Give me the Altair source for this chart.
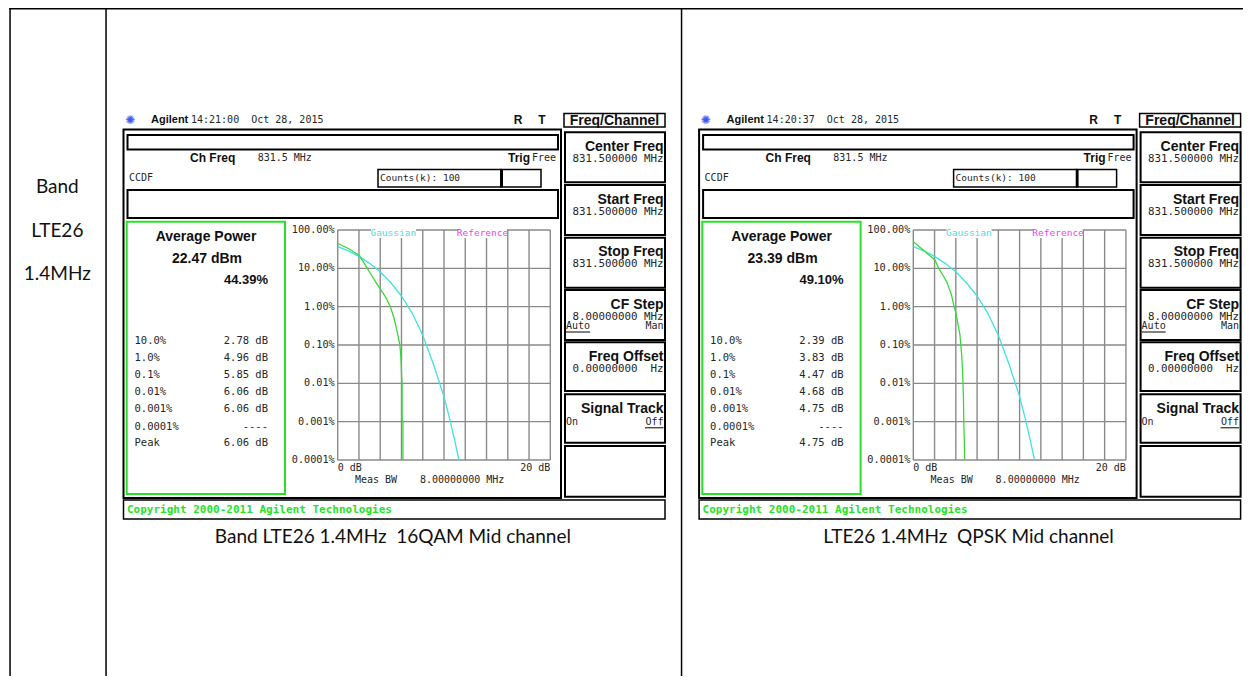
import altair as alt
import pandas as pd

# ---------------------------------------------------------------- data
ROW_TITLE = ["Band", "LTE26", "1.4MHz"]
CAPTIONS = ["Band LTE26 1.4MHz \u00a016QAM Mid channel", "LTE26 1.4MHz \u00a0QPSK Mid channel"]
CLOCK = ["14:21:00 \u00a0Oct 28, 2015", "14:20:37 \u00a0Oct 28, 2015"]
CH_FREQ = "831.5 MHz"
COUNTS = "Counts(k): 100"
AVG_POWER = ["22.47 dBm", "23.39 dBm"]
AVG_PCT = ["44.39%", "49.10%"]
PROB_LEVELS = ["10.0%", "1.0%", "0.1%", "0.01%", "0.001%", "0.0001%", "Peak"]
PAPR_16QAM = ["2.78 dB", "4.96 dB", "5.85 dB", "6.06 dB", "6.06 dB", "----", "6.06 dB"]
PAPR_QPSK = ["2.39 dB", "3.83 dB", "4.47 dB", "4.68 dB", "4.75 dB", "----", "4.75 dB"]
Y_TICK_VALUES = [100, 10, 1, 0.1, 0.01, 0.001, 0.0001]
Y_TICK_LABELS = ["100.00%", "10.00%", "1.00%", "0.10%", "0.01%", "0.001%", "0.0001%"]
X_GRID_DB = [0, 2, 4, 6, 8, 10, 12, 14, 16, 18, 20]
X_END_DB = [0, 20]
X_END_LABELS = ["0 dB", "20 dB"]
MEAS_BW = ["Meas BW", "8.00000000 MHz"]
MENU_TITLE = "Freq/Channel"
SOFTKEY_TITLES = ["Center Freq", "Start Freq", "Stop Freq", "CF Step", "Freq Offset", "Signal Track"]
SOFTKEY_VALUES = ["831.500000 MHz", "831.500000 MHz", "831.500000 MHz", "8.00000000 MHz",
                  "0.00000000 \u00a0Hz", ""]
COPYRIGHT = "Copyright 2000-2011 Agilent Technologies"
LEGEND = ["Gaussian", "Reference"]

# curves (x: dB above average, y: probability %)
GAUSS_DB = [0, 1, 2, 3, 4, 5, 6, 7, 8, 9, 10, 10.5, 11, 11.4]
GAUSS_PCT = [36.8, 28.5, 20.5, 13.5, 8.1, 4.2, 1.9, 0.68, 0.18, 0.032, 0.0045, 0.0013, 0.00033, 0.0001]
QAM16_DB = [0, 1.0, 2.0, 2.4, 2.78, 3.2, 3.6, 4.0, 4.5, 4.96, 5.3, 5.6, 5.85, 5.95, 6.02, 6.06, 6.06, 6.14, 6.14]
QAM16_PCT = [44.39, 33, 22, 15, 10, 6.5, 4.3, 2.9, 1.8, 1.0, 0.5, 0.22, 0.1, 0.045, 0.014, 0.01, 0.0011, 0.001, 0.0001]
QPSK_DB = [0, 0.94, 1.5, 2.04, 2.39, 2.8, 3.13, 3.6, 3.83, 3.98, 4.2, 4.39, 4.47, 4.55, 4.62, 4.68, 4.72, 4.75, 4.8, 4.83]
QPSK_PCT = [49.1, 30, 22, 16.6, 10, 6.5, 4.5, 2.0, 1.0, 0.75, 0.35, 0.185, 0.1, 0.056, 0.025, 0.01, 0.004, 0.001, 0.0003, 0.0001]

# ---------------------------------------------------------------- style / layout
OFF = 8.0          # page margin
DX = 575.6         # horizontal distance between the two screenshots
MONO = "DejaVu Sans Mono"
SANS = "Liberation Sans"
DOC = "Lato"
GREEN = "#27e227"
CYAN = "#3fe3e3"
MAGENTA = "#f23cf2"
GRIDC = "#8a8a8a"
INK = "#262626"

texts = {}
rects = {}


def T(style, x, y, s):
    if s:
        texts.setdefault(style, []).append({"x": x - OFF, "y": y - OFF, "t": s})


def R(style, x0, y0, x1, y1):
    rects.setdefault(style, []).append({"x": x0 - OFF, "x2": x1 - OFF, "y": y0 - OFF, "y2": y1 - OFF})


# document table
R("black", 9.3, 8, 10.8, 684)
R("black", 105.3, 8, 106.8, 684)
R("black", 680.8, 8, 682.3, 684)
R("black", 9.3, 8, 1251, 9.6)
for s, yy in zip(ROW_TITLE, [187.3, 230.7, 274]):
    T(("center", DOC, 19, "normal", "#111"), 57.3, yy, s)

PLOT_L, PLOT_R, PLOT_T, PLOT_B = 337.7, 550.3, 230.0, 460.0
ROW_Y = [340.7, 357.7, 374.5, 391.7, 409.0, 426.7, 443.3]
KEY_TOPS = [132.3, 185.0, 237.7, 290.0, 342.3, 394.3, 446.0]
KEY_BOTTOMS = [182.3, 235.0, 287.7, 340.0, 391.0, 442.7, 496.7]

for i in range(2):
    d = i * DX
    T(("center", "DejaVu Sans", 12, "normal", "#3a5cf0"), 130 + d, 120, "\u273a")
    T(("left", SANS, 11, "bold", "#111"), 151 + d, 120, "Agilent")
    T(("left", MONO, 10, "normal", INK), 191 + d, 120, CLOCK[i])
    T(("center", SANS, 12, "bold", "#111"), 518 + d, 120, "R")
    T(("center", SANS, 12, "bold", "#111"), 542 + d, 120, "T")
    # screen frame and bars
    R("box2", 123.5 + d, 129.5, 561 + d, 498)
    R("box2", 127.5 + d, 135, 558 + d, 149.5)
    R("box2", 127.5 + d, 190, 558 + d, 218)
    T(("left", SANS, 12, "bold", "#111"), 190 + d, 158, "Ch Freq")
    T(("left", MONO, 10, "normal", INK), 257.7 + d, 158, CH_FREQ)
    T(("left", SANS, 12, "bold", "#111"), 508 + d, 158, "Trig")
    T(("right", MONO, 10, "normal", INK), 556 + d, 158, "Free")
    T(("left", MONO, 10, "normal", INK), 129 + d, 178, "CCDF")
    R("box15", 378 + d, 169.5, 501 + d, 187)
    R("box15", 501 + d, 169.5, 541 + d, 187)
    R("black", 500.5 + d, 169.5, 503 + d, 187)
    T(("left", MONO, 9.5, "normal", INK), 380 + d, 178, COUNTS)
    # result panel
    R("greenbox", 126.7 + d, 221.7, 285 + d, 494)
    T(("center", SANS, 14, "bold", "#111"), 206 + d, 237, "Average Power")
    T(("center", SANS, 14, "bold", "#111"), 207 + d, 258.5, AVG_POWER[i])
    T(("right", SANS, 13, "bold", "#111"), 268 + d, 280, AVG_PCT[i])
    vals = PAPR_16QAM if i == 0 else PAPR_QPSK
    for lab, v, yy in zip(PROB_LEVELS, vals, ROW_Y):
        T(("left", MONO, 10.5, "normal", INK), 134.5 + d, yy, lab)
        T(("right", MONO, 10.5, "normal", INK), 268 + d, yy, v)
    # legend labels with white background
    R("white", 371 + d, 228.5, 416 + d, 238)
    R("white", 458 + d, 228.5, 507 + d, 238)
    T(("center", MONO, 9.5, "normal", CYAN), 393.3 + d, 233.3, LEGEND[0])
    T(("center", MONO, 9.5, "normal", MAGENTA), 482.5 + d, 233.3, LEGEND[1])
    T(("left", MONO, 10, "normal", INK), 355 + d, 479.5, MEAS_BW[0])
    T(("left", MONO, 10, "normal", INK), 420 + d, 479.5, MEAS_BW[1])
    # copyright bar
    R("box15", 123.5 + d, 500, 665 + d, 519)
    T(("left", MONO, 11, "bold", GREEN), 127 + d, 510, COPYRIGHT)
    # softkeys
    R("box15", 564 + d, 113.5, 665 + d, 127)
    T(("center", SANS, 14, "bold", "#111"), 614.5 + d, 120.5, MENU_TITLE)
    for k, (t0, t1) in enumerate(zip(KEY_TOPS, KEY_BOTTOMS)):
        R("box2", 565 + d, t0, 665 + d, t1)
        if k < len(SOFTKEY_TITLES):
            T(("right", SANS, 14, "bold", "#111"), 663.5 + d, t0 + 14.5, SOFTKEY_TITLES[k])
            T(("right", MONO, 10.8, "normal", INK), 663.5 + d, t0 + 26.5, SOFTKEY_VALUES[k])
    T(("left", MONO, 10, "normal", INK), 566 + d, KEY_TOPS[3] + 36, "Auto")
    T(("right", MONO, 10, "normal", INK), 663.5 + d, KEY_TOPS[3] + 36, "Man")
    R("black", 566 + d, KEY_TOPS[3] + 41.5, 590 + d, KEY_TOPS[3] + 42.5)
    T(("left", MONO, 10, "normal", INK), 566 + d, KEY_TOPS[5] + 27.5, "On")
    T(("right", MONO, 10, "normal", INK), 663.5 + d, KEY_TOPS[5] + 27.5, "Off")
    R("black", 645 + d, KEY_TOPS[5] + 33, 663.5 + d, KEY_TOPS[5] + 34)
    # caption
    T(("center", DOC, 19, "normal", "#111"), 392.9 + d, 536.7, CAPTIONS[i])

RECT_STYLE = {
    "black": dict(fill="black", strokeWidth=0),
    "white": dict(fill="white", strokeWidth=0),
    "box2": dict(fillOpacity=0, stroke="black", strokeWidth=2),
    "box15": dict(fillOpacity=0, stroke="black", strokeWidth=1.5),
    "greenbox": dict(fillOpacity=0, stroke=GREEN, strokeWidth=2),
}

PX = dict(scale=None, axis=None)


def rect_layer(name):
    df = pd.DataFrame(rects[name])
    return alt.Chart(df).mark_rect(**RECT_STYLE[name]).encode(
        x=alt.X("x:Q", **PX), x2="x2:Q", y=alt.Y("y:Q", **PX), y2="y2:Q")


def text_layer(style):
    align, font, size, weight, color = style
    df = pd.DataFrame(texts[style])
    return alt.Chart(df).mark_text(align=align, baseline="middle", font=font, fontSize=size,
                                   fontWeight=weight, color=color).encode(
        x=alt.X("x:Q", **PX), y=alt.Y("y:Q", **PX), text="t:N")


def plot_layer(i, db, pct):
    d = i * DX
    xs = alt.Scale(domain=[0, 20], range=[PLOT_L + d - OFF, PLOT_R + d - OFF], nice=False, zero=False)
    ys = alt.Scale(type="log", domain=[0.0001, 100], range=[PLOT_B - OFF, PLOT_T - OFF], nice=False)
    vgrid = pd.DataFrame({"db": X_GRID_DB, "lo": [0.0001] * len(X_GRID_DB), "hi": [100] * len(X_GRID_DB)})
    hgrid = pd.DataFrame({"pct": Y_TICK_VALUES, "a": [0] * len(Y_TICK_VALUES), "b": [20] * len(Y_TICK_VALUES),
                          "lab": Y_TICK_LABELS})
    ends = pd.DataFrame({"db": X_END_DB, "pct": [0.0001, 0.0001], "lab": X_END_LABELS})
    gauss = pd.DataFrame({"db": GAUSS_DB, "pct": GAUSS_PCT, "o": list(range(len(GAUSS_DB)))})
    meas = pd.DataFrame({"db": db, "pct": pct, "o": list(range(len(db)))})
    X = lambda f: alt.X(f, scale=xs, axis=None)
    Y = lambda f: alt.Y(f, scale=ys, axis=None)
    layers = [
        alt.Chart(vgrid).mark_rule(color=GRIDC, strokeWidth=1.4).encode(x=X("db:Q"), y=Y("lo:Q"), y2="hi:Q"),
        alt.Chart(hgrid).mark_rule(color=GRIDC, strokeWidth=1.4).encode(y=Y("pct:Q"), x=X("a:Q"), x2="b:Q"),
        alt.Chart(hgrid).mark_text(align="right", baseline="middle", dx=-3, font=MONO, fontSize=10.2,
                                   color=INK).encode(x=X("a:Q"), y=Y("pct:Q"), text="lab:N"),
        alt.Chart(ends.iloc[[0]]).mark_text(align="left", baseline="middle", dy=8, font=MONO, fontSize=10,
                                            color=INK).encode(x=X("db:Q"), y=Y("pct:Q"), text="lab:N"),
        alt.Chart(ends.iloc[[1]]).mark_text(align="right", baseline="middle", dy=8, font=MONO, fontSize=10,
                                            color=INK).encode(x=X("db:Q"), y=Y("pct:Q"), text="lab:N"),
        alt.Chart(gauss).mark_line(color=CYAN, strokeWidth=1.3).encode(x=X("db:Q"), y=Y("pct:Q"), order="o:Q"),
        alt.Chart(meas).mark_line(color="#3bd83b", strokeWidth=1.3).encode(x=X("db:Q"), y=Y("pct:Q"), order="o:Q"),
    ]
    return alt.layer(*layers)


back_rects = [rect_layer(n) for n in ["black", "box2", "box15", "greenbox"]]
plots = [plot_layer(0, QAM16_DB, QAM16_PCT), plot_layer(1, QPSK_DB, QPSK_PCT)]
front = [rect_layer("white")] + [text_layer(s) for s in texts]

chart = alt.layer(*back_rects, *plots, *front).resolve_scale(
    x="independent", y="independent"
).properties(
    width=1235, height=668, autosize="none", padding=0
).configure_view(stroke=None)

chart.save("out.html", embed_options={"renderer": "svg", "actions": False})
